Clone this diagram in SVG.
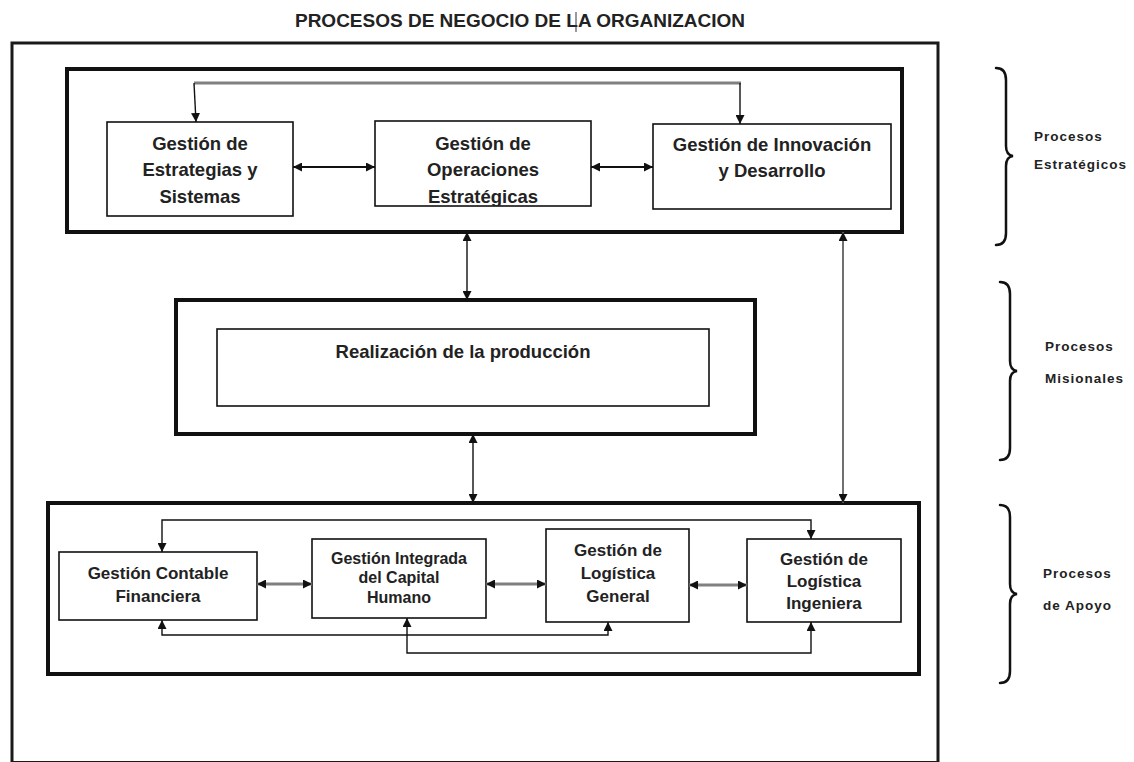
<svg xmlns="http://www.w3.org/2000/svg" width="1134" height="762" viewBox="0 0 1134 762">
<style>
  .frame{fill:none;stroke:#1a1a1a;stroke-width:3}
  .group{fill:#fff;stroke:#111;stroke-width:4}
  .box{fill:#fff;stroke:#111;stroke-width:1.6}
  .t{font-family:"Liberation Sans",Arial,sans-serif;font-weight:bold;fill:#222;text-anchor:middle}
  .top{font-size:18.5px}
  .bot{font-size:17px}
  .side{font-family:"Liberation Sans",Arial,sans-serif;font-weight:bold;font-size:13.5px;letter-spacing:1px;fill:#222}
  .c{fill:none;stroke:#111;stroke-width:1.4}
  .cb{fill:none;stroke:#111;stroke-width:2}
  .cg{fill:none;stroke:#808080;stroke-width:3}
  .cg2{fill:none;stroke:#707070;stroke-width:2}
  .brace{fill:none;stroke:#111;stroke-width:2.5;stroke-linecap:round}
</style>
<defs>
  <marker id="ah" viewBox="0 0 10 10" refX="10" refY="5" markerWidth="9" markerHeight="9" markerUnits="userSpaceOnUse" orient="auto-start-reverse">
    <path d="M0,0 L10,5 L0,10 z" fill="#111"/>
  </marker>
  <clipPath id="clipOp"><rect x="375" y="121" width="216" height="85"/></clipPath>
</defs>
<rect width="1134" height="762" fill="#fff"/>

<g id="title">
  <text x="520" y="27" class="t" style="font-size:19px">PROCESOS DE NEGOCIO DE LA ORGANIZACION</text>
  <line x1="576" y1="12" x2="576" y2="32" stroke="#333" stroke-width="1"/>
</g>

<g id="outer-frame">
  <rect x="12" y="43" width="926" height="719.5" class="frame"/>
</g>

<g id="procesos-estrategicos">
  <rect x="67" y="69" width="835" height="163" class="group"/>
</g>
<g id="gestion-estrategias">
  <rect x="107" y="122" width="186" height="94" class="box"/>
  <text class="t top" x="200" y="150">Gestión de</text>
  <text class="t top" x="200" y="176">Estrategias y</text>
  <text class="t top" x="200" y="203">Sistemas</text>
</g>
<g id="gestion-operaciones">
  <rect x="375" y="121" width="216" height="85" class="box"/>
  <g clip-path="url(#clipOp)">
    <text class="t top" x="483" y="150">Gestión de</text>
    <text class="t top" x="483" y="176">Operaciones</text>
    <text class="t top" x="483" y="203">Estratégicas</text>
  </g>
</g>
<g id="gestion-innovacion">
  <rect x="653" y="124" width="238" height="85" class="box"/>
  <text class="t top" x="772" y="151">Gestión de Innovación</text>
  <text class="t top" x="772" y="177">y Desarrollo</text>
</g>

<g id="procesos-misionales">
  <rect x="176" y="300" width="579" height="134" class="group"/>
</g>
<g id="realizacion-produccion">
  <rect x="217" y="329" width="492" height="77" class="box"/>
  <text class="t top" x="463" y="358">Realización de la producción</text>
</g>

<g id="procesos-apoyo">
  <rect x="48" y="503" width="871" height="171" class="group"/>
</g>
<g id="gestion-contable">
  <rect x="59" y="552" width="198" height="68" class="box"/>
  <text class="t bot" x="158" y="579">Gestión Contable</text>
  <text class="t bot" x="158" y="602">Financiera</text>
</g>
<g id="gestion-capital-humano">
  <rect x="312" y="539" width="174" height="79" class="box"/>
  <text class="t" style="font-size:16px" x="399" y="564">Gestión Integrada</text>
  <text class="t" style="font-size:16px" x="399" y="583">del Capital</text>
  <text class="t" style="font-size:16px" x="399" y="603">Humano</text>
</g>
<g id="gestion-logistica-general">
  <rect x="546" y="529" width="143" height="93" class="box"/>
  <text class="t bot" x="618" y="556">Gestión de</text>
  <text class="t bot" x="618" y="579">Logística</text>
  <text class="t bot" x="618" y="602">General</text>
</g>
<g id="gestion-logistica-ingeniera">
  <rect x="747" y="539" width="154" height="83" class="box"/>
  <text class="t bot" x="824" y="565">Gestión de</text>
  <text class="t bot" x="824" y="587">Logística</text>
  <text class="t bot" x="824" y="609">Ingeniera</text>
</g>

<g id="connectors">
  <line x1="194" y1="83" x2="741" y2="83" class="cg"/>
  <line x1="194" y1="83" x2="196" y2="122" class="c" marker-end="url(#ah)"/>
  <line x1="740" y1="83" x2="740" y2="124" class="c" marker-end="url(#ah)"/>
  <line x1="293" y1="167" x2="375" y2="167" class="cb" marker-start="url(#ah)" marker-end="url(#ah)"/>
  <line x1="591" y1="167" x2="653" y2="167" class="cb" marker-start="url(#ah)" marker-end="url(#ah)"/>
  <line x1="467" y1="232" x2="467" y2="300" class="c" marker-start="url(#ah)" marker-end="url(#ah)"/>
  <line x1="473" y1="434" x2="473" y2="503" class="c" marker-start="url(#ah)" marker-end="url(#ah)"/>
  <line x1="843" y1="232" x2="843" y2="503" class="cg2" marker-start="url(#ah)" marker-end="url(#ah)"/>
  <polyline points="162,552 162,520 811,520 811,539" class="c" marker-start="url(#ah)" marker-end="url(#ah)"/>
  <polyline points="162,620 162,635 608,635 608,622" class="c" marker-start="url(#ah)" marker-end="url(#ah)"/>
  <polyline points="407,618 407,653 811,653 811,622" class="c" marker-start="url(#ah)" marker-end="url(#ah)"/>
  <line x1="257" y1="584" x2="312" y2="584" class="cg" marker-start="url(#ah)" marker-end="url(#ah)"/>
  <line x1="486" y1="584" x2="546" y2="584" class="cg" marker-start="url(#ah)" marker-end="url(#ah)"/>
  <line x1="689" y1="585" x2="747" y2="585" class="cg" marker-start="url(#ah)" marker-end="url(#ah)"/>
</g>

<g id="brace-estrategicos">
  <path class="brace" d="M996,68 Q1006,68 1006,80 L1006,146 Q1006,155 1013,156 Q1006,157 1006,166 L1006,233 Q1006,245 996,245"/>
  <text class="side" x="1034" y="141">Procesos</text>
  <text class="side" x="1034" y="169">Estratégicos</text>
</g>
<g id="brace-misionales">
  <path class="brace" d="M1000,282 Q1010,282 1010,294 L1010,361 Q1010,370 1017,371 Q1010,372 1010,381 L1010,448 Q1010,460 1000,460"/>
  <text class="side" x="1045" y="351">Procesos</text>
  <text class="side" x="1045" y="383">Misionales</text>
</g>
<g id="brace-apoyo">
  <path class="brace" d="M1000,505 Q1010,505 1010,517 L1010,584 Q1010,593 1017,594 Q1010,595 1010,604 L1010,671 Q1010,683 1000,683"/>
  <text class="side" x="1043" y="578">Procesos</text>
  <text class="side" x="1043" y="610">de Apoyo</text>
</g>
</svg>
